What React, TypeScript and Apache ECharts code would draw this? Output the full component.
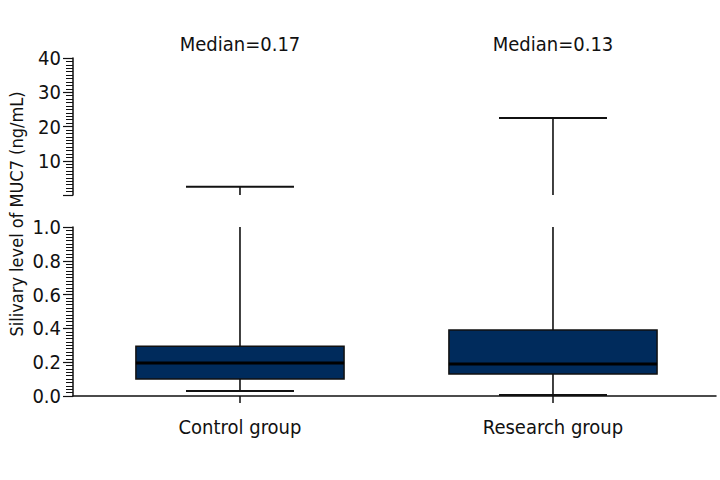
import React, { useEffect, useRef } from 'react';
import * as echarts from 'echarts';

const categories = ['Control group', 'Research group'];
const minValues = [0.03, 0.006];
const q1Values = [0.1, 0.13];
const medianValues = [0.195, 0.19];
const q3Values = [0.295, 0.39];
const maxValues = [2.4, 22.5];
const medianLabels = ['Median=0.17', 'Median=0.13'];
const lowerAxisMax = 1.0;
const upperAxisMax = 40;

const FONT = "'Liberation Sans Narrow', 'DejaVu Sans Condensed', 'Arial Narrow', sans-serif";
const NAVY = '#002b5c';
const INK = '#111111';
const FS = 20;

export default function App() {
  const ref = useRef<HTMLDivElement>(null);
  useEffect(() => {
    if (!ref.current) return;
    const chart = echarts.init(ref.current, undefined, { renderer: 'svg' });

    const lowerData = categories.map((_, i) => [i, minValues[i], q1Values[i], medianValues[i], q3Values[i], maxValues[i]]);
    const upperData = categories.map((_, i) => [i, maxValues[i]]);

    const xCommon = {
      type: 'value',
      min: -0.5335,
      max: 1.5208,
      splitLine: { show: false },
    };

    const yCommon = {
      type: 'value',
      splitLine: { show: false },
      axisLine: { show: true, onZero: false, lineStyle: { color: INK, width: 1.5 } },
      axisTick: { show: true, length: 10, lineStyle: { color: INK, width: 1.2 } },
      minorTick: { show: true, splitNumber: 10, length: 7, lineStyle: { color: INK, width: 1 } },
    };

    const option: any = {
      animation: false,
      backgroundColor: '#ffffff',
      textStyle: { fontFamily: FONT },
      grid: [
        { left: 73, right: 4, top: 227, height: 169 },
        { left: 73, right: 4, top: 58, height: 137 },
      ],
      xAxis: [
        {
          ...xCommon,
          gridIndex: 0,
          axisLine: { show: true, onZero: false, lineStyle: { color: INK, width: 1.5 } },
          axisTick: { show: true, customValues: [0, 1], length: 7, lineStyle: { color: INK, width: 1.5 } },
          axisLabel: {
            show: true,
            customValues: [0, 1],
            formatter: (v: number) => categories[Math.round(v)] ?? '',
            fontFamily: FONT,
            fontSize: FS,
            color: INK,
            margin: 21,
          },
        },
        {
          ...xCommon,
          gridIndex: 1,
          show: false,
        },
      ],
      yAxis: [
        {
          ...yCommon,
          gridIndex: 0,
          min: 0,
          max: lowerAxisMax,
          interval: 0.2,
          axisLabel: {
            fontFamily: FONT,
            fontSize: FS,
            color: INK,
            margin: 12,
            formatter: (v: number) => v.toFixed(1),
          },
        },
        {
          ...yCommon,
          gridIndex: 1,
          min: 0,
          max: upperAxisMax,
          interval: 10,
          axisLabel: {
            fontFamily: FONT,
            fontSize: FS,
            color: INK,
            margin: 12,
            formatter: (v: number) => (v === 0 ? '' : String(v)),
          },
        },
      ],
      graphic: [
        {
          type: 'text',
          x: 16,
          y: 214,
          rotation: Math.PI / 2,
          style: {
            text: 'Silivary level of MUC7 (ng/mL)',
            fontFamily: FONT,
            fontSize: 18,
            fill: INK,
            textAlign: 'center',
            textVerticalAlign: 'middle',
          },
        },
      ],
      series: [
        {
          type: 'custom',
          xAxisIndex: 0,
          yAxisIndex: 0,
          clip: false,
          data: lowerData,
          renderItem: (params: any, api: any) => {
            const x = api.value(0);
            const vMin = api.value(1);
            const vQ1 = api.value(2);
            const vMed = api.value(3);
            const vQ3 = api.value(4);
            const vMax = api.value(5);
            const unit = api.size([1, 0])[0];
            const boxW = unit * 0.665;
            const capW = unit * 0.345;
            const pMin = api.coord([x, vMin]);
            const pQ1 = api.coord([x, vQ1]);
            const pMed = api.coord([x, vMed]);
            const pQ3 = api.coord([x, vQ3]);
            const pTop = api.coord([x, Math.min(vMax, lowerAxisMax)]);
            const cx = pQ1[0];
            const lineStyle = { stroke: INK, lineWidth: 1.6 };
            return {
              type: 'group',
              children: [
                { type: 'line', shape: { x1: cx, y1: pQ3[1], x2: cx, y2: pTop[1] }, style: lineStyle },
                { type: 'line', shape: { x1: cx, y1: pQ1[1], x2: cx, y2: pMin[1] }, style: lineStyle },
                { type: 'line', shape: { x1: cx - capW / 2, y1: pMin[1], x2: cx + capW / 2, y2: pMin[1] }, style: { stroke: INK, lineWidth: 2 } },
                {
                  type: 'rect',
                  shape: { x: cx - boxW / 2, y: pQ3[1], width: boxW, height: pQ1[1] - pQ3[1] },
                  style: { fill: NAVY, stroke: INK, lineWidth: 1.5 },
                },
                { type: 'line', shape: { x1: cx - boxW / 2, y1: pMed[1], x2: cx + boxW / 2, y2: pMed[1] }, style: { stroke: '#000', lineWidth: 3 } },
              ],
            };
          },
        },
        {
          type: 'custom',
          xAxisIndex: 1,
          yAxisIndex: 1,
          clip: false,
          data: upperData,
          renderItem: (params: any, api: any) => {
            const x = api.value(0);
            const vMax = api.value(1);
            const unit = api.size([1, 0])[0];
            const capW = unit * 0.345;
            const pBase = api.coord([x, 0]);
            const pMax = api.coord([x, vMax]);
            const pTitle = api.coord([x, upperAxisMax]);
            const cx = pBase[0];
            return {
              type: 'group',
              children: [
                { type: 'line', shape: { x1: cx, y1: pBase[1], x2: cx, y2: pMax[1] }, style: { stroke: INK, lineWidth: 1.6 } },
                { type: 'line', shape: { x1: cx - capW / 2, y1: pMax[1], x2: cx + capW / 2, y2: pMax[1] }, style: { stroke: INK, lineWidth: 2 } },
                {
                  type: 'text',
                  x: cx,
                  y: pTitle[1] - 14,
                  style: {
                    text: medianLabels[params.dataIndex],
                    fontFamily: FONT,
                    fontSize: FS,
                    fill: INK,
                    textAlign: 'center',
                    textVerticalAlign: 'middle',
                  },
                },
              ],
            };
          },
        },
      ],
    };

    chart.setOption(option);
    return () => chart.dispose();
  }, []);

  return <div ref={ref} style={{ width: 720, height: 480, position: 'absolute', left: 0, top: 0 }} />;
}
